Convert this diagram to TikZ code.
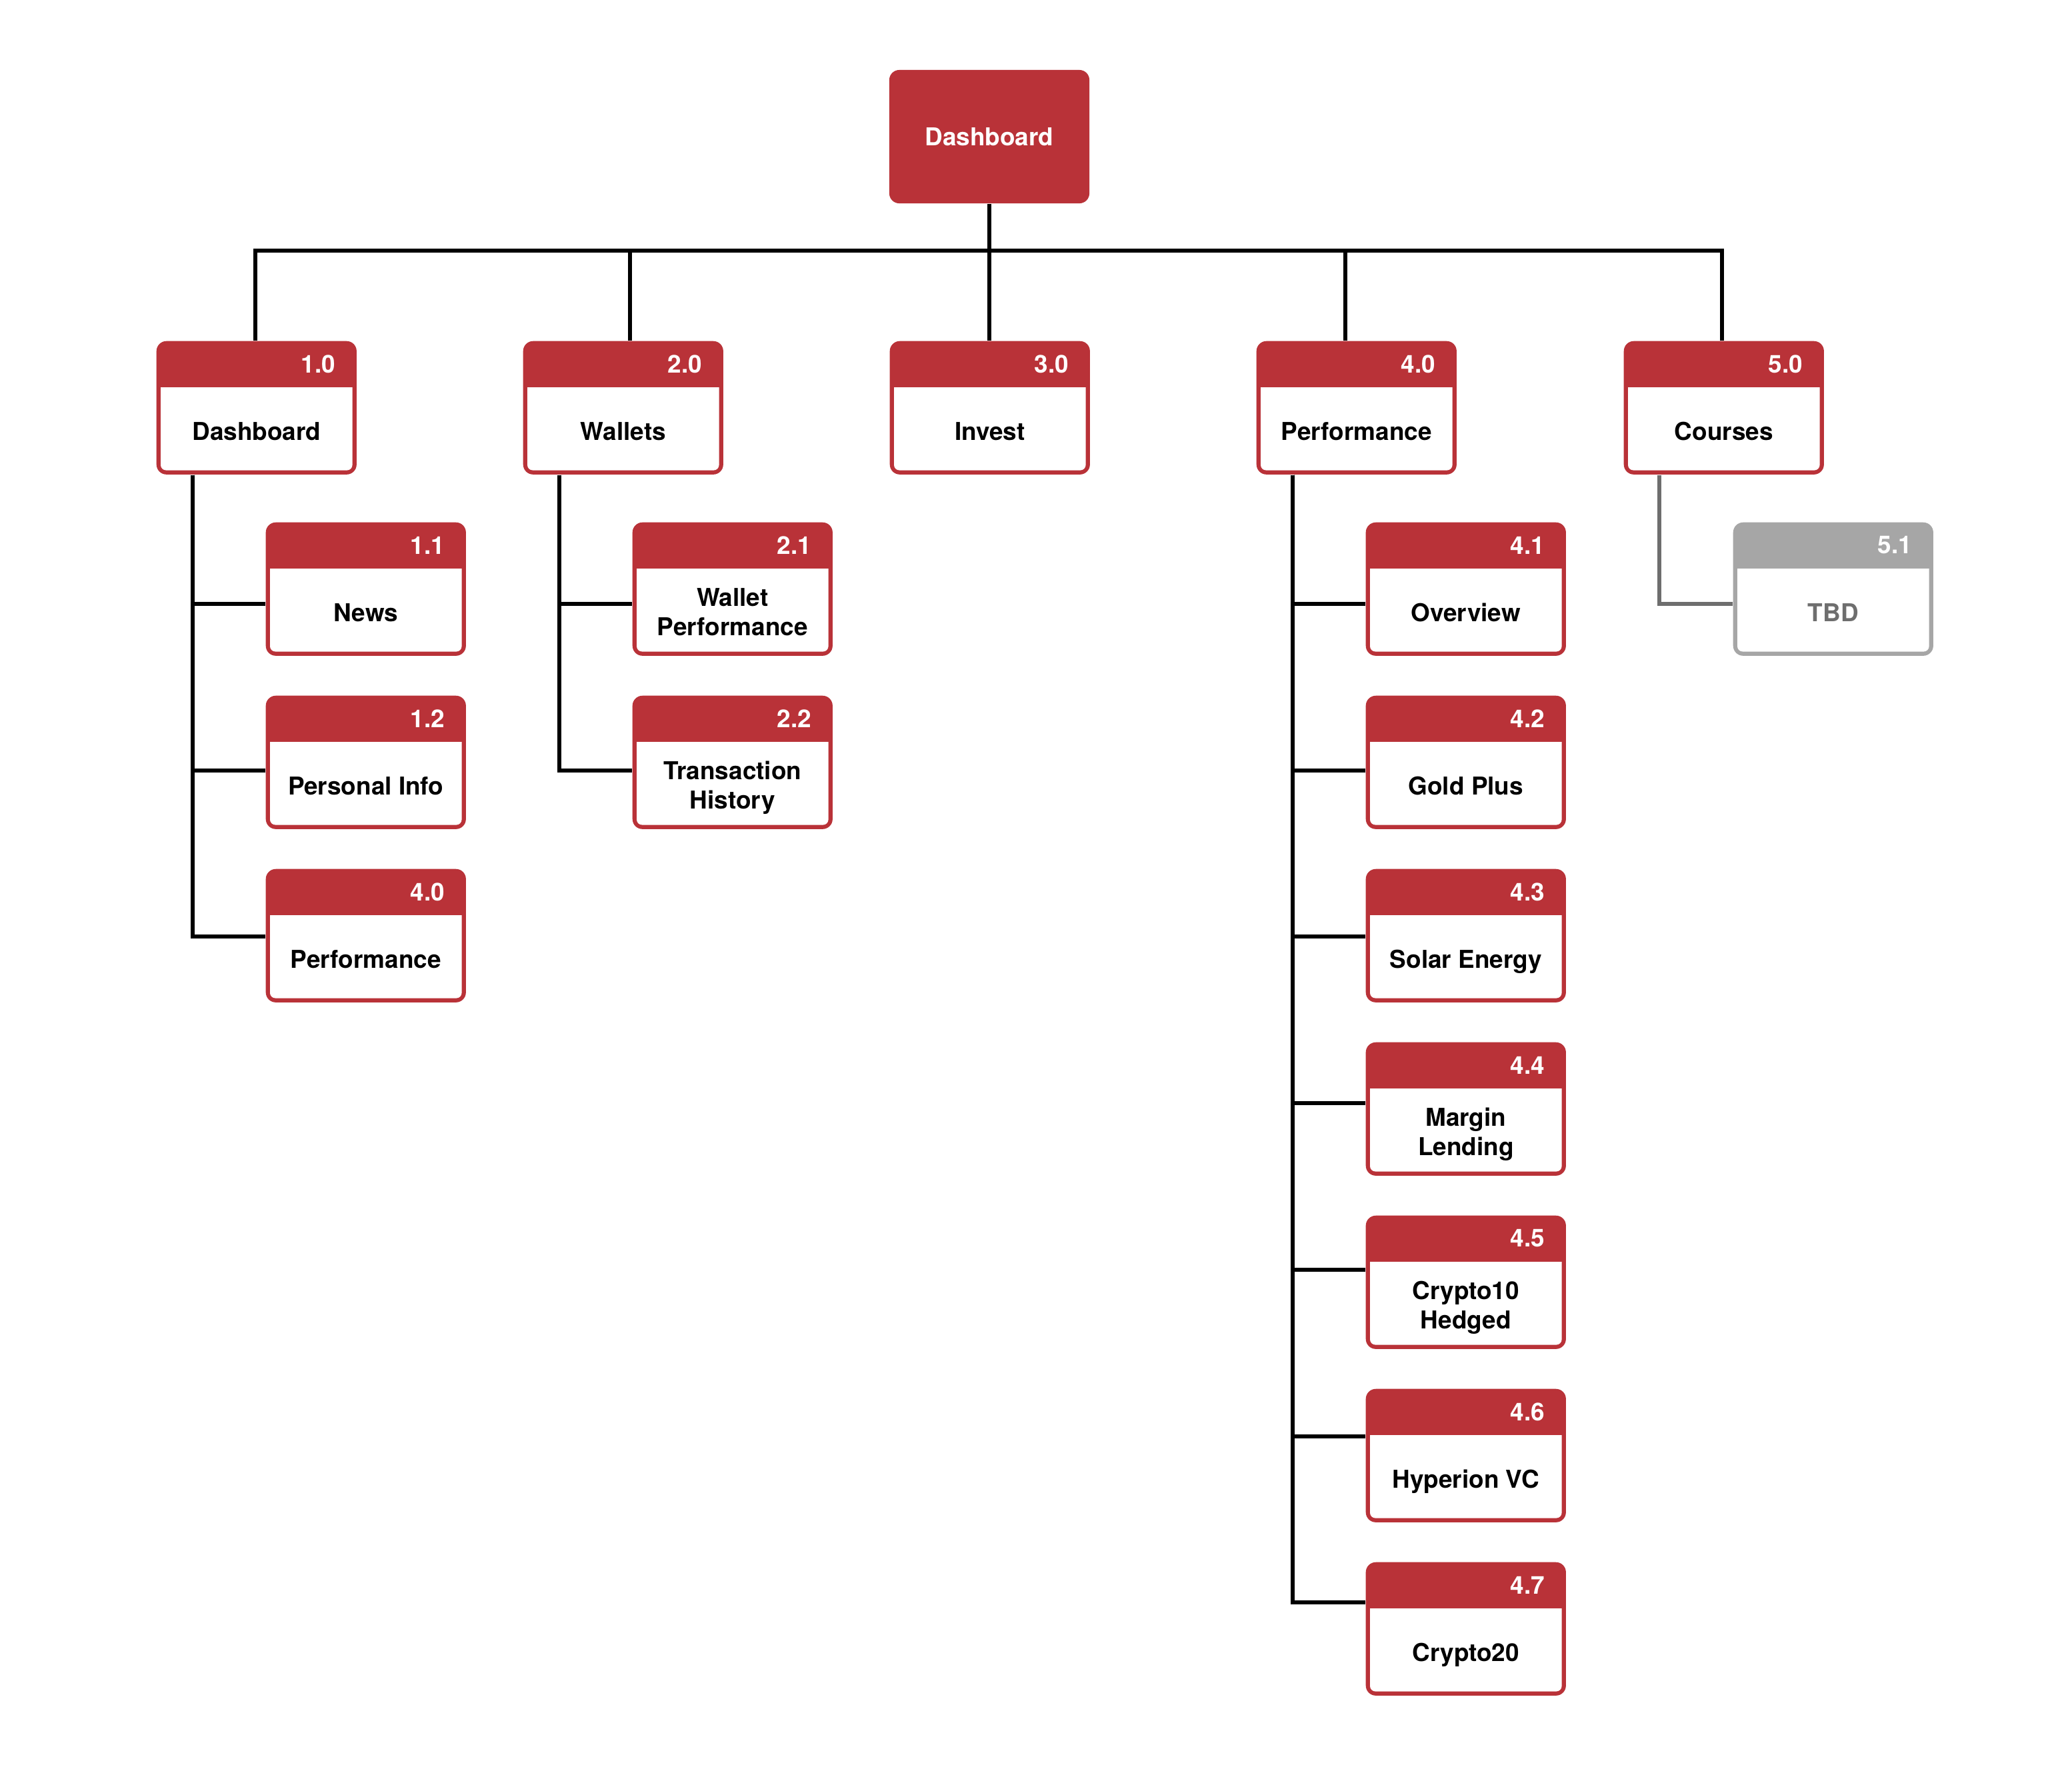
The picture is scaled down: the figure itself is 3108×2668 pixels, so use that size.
\documentclass[tikz,border=0pt]{standalone}
\usepackage{fontspec}
\setmainfont{TeX Gyre Heros}
\usetikzlibrary{calc}
\definecolor{brand}{HTML}{B93238}
\definecolor{greybox}{HTML}{A6A6A6}
\definecolor{greyline}{HTML}{6E6E6E}
% name, left, top, number, label, colour, baseline offset, label colour
\newcommand\mkbox[8]{%
  \node[boxshape, fill=#6] (#1) at (#2,#3) {};
  \fill[white] ([shift={(7,70)}]#1.north west) -- ([shift={(-7,70)}]#1.north east)
     [rounded corners=0.08cm] -- ([shift={(-7,-7)}]#1.south east) -- ([shift={(7,-7)}]#1.south west)
     [sharp corners] -- cycle;
  \node[numtext] (#1n) at ([shift={(-32,35)}]#1.north east) {#4};
  \node[labtext, text=#8] (#1l) at ([shift={(0,#7)}]#1.north) {#5};
}
\begin{document}
\begin{tikzpicture}[x=0.01cm,y=-0.01cm,
  boxshape/.style={rectangle, rounded corners=0.15cm, minimum width=3cm, minimum height=2cm, inner sep=0pt, anchor=north west},
  numtext/.style={font=\fontsize{10.5}{12.5}\selectfont\bfseries, text=white, inner sep=0pt, anchor=east},
  labtext/.style={font=\fontsize{10.5}{12.4}\selectfont\bfseries, inner sep=0pt, align=center, anchor=base},
  conn/.style={line width=0.06cm, black},
  gconn/.style={line width=0.06cm, greyline},
]
\useasboundingbox[fill=white] (0,0) rectangle (3108,2668);

% root
\node[rectangle, rounded corners=0.15cm, minimum width=3cm, minimum height=2cm, inner sep=0pt,
      fill=brand, text=white, font=\fontsize{10.5}{12.5}\selectfont\bfseries] (root) at (1484,205) {Dashboard};

% level 1
\mkbox{b1}{234}{511}{1.0}{Dashboard}{brand}{149}{black}
\mkbox{b2}{784}{511}{2.0}{Wallets}{brand}{149}{black}
\mkbox{b3}{1334}{511}{3.0}{Invest}{brand}{149}{black}
\mkbox{b4}{1884}{511}{4.0}{Performance}{brand}{149}{black}
\mkbox{b5}{2435}{511}{5.0}{Courses}{brand}{149}{black}

% level 2 : 1.x
\mkbox{b11}{398}{783}{1.1}{News}{brand}{149}{black}
\mkbox{b12}{398}{1043}{1.2}{Personal Info}{brand}{149}{black}
\mkbox{b13}{398}{1303}{4.0}{Performance}{brand}{149}{black}
% 2.x
\mkbox{b21}{948}{783}{2.1}{Wallet\\Performance}{brand}{170}{black}
\mkbox{b22}{948}{1043}{2.2}{Transaction\\History}{brand}{170}{black}
% 4.x
\mkbox{b41}{2048}{783}{4.1}{Overview}{brand}{149}{black}
\mkbox{b42}{2048}{1043}{4.2}{Gold Plus}{brand}{149}{black}
\mkbox{b43}{2048}{1303}{4.3}{Solar Energy}{brand}{149}{black}
\mkbox{b44}{2048}{1563}{4.4}{Margin\\Lending}{brand}{170}{black}
\mkbox{b45}{2048}{1823}{4.5}{Crypto10\\Hedged}{brand}{170}{black}
\mkbox{b46}{2048}{2083}{4.6}{Hyperion VC}{brand}{149}{black}
\mkbox{b47}{2048}{2343}{4.7}{Crypto20}{brand}{149}{black}
% 5.x
\mkbox{b51}{2599}{783}{5.1}{TBD}{greybox}{149}{greyline}

% bus
\coordinate (d1) at (383,376);
\coordinate (d2) at (945,376);
\coordinate (d3) at (1484,376);
\coordinate (d4) at (2018,376);
\coordinate (d5) at (2583,376);
\draw[conn] (d1 |- b1.north) -- (d1) -- (d5) -- (d5 |- b5.north);
\draw[conn] (root.south) -- (d3 |- b3.north);
\draw[conn] (d2) -- (d2 |- b2.north);
\draw[conn] (d4) -- (d4 |- b4.north);

% trunks
\draw[conn] ([xshift=0.55cm]b1.south west) |- ([yshift=-1.23cm]b11.north west);
\draw[conn] ([xshift=0.55cm]b1.south west) |- ([yshift=-1.13cm]b12.north west);
\draw[conn] ([xshift=0.55cm]b1.south west) |- ([yshift=-1.02cm]b13.north west);

\draw[conn] ([xshift=0.55cm]b2.south west) |- ([yshift=-1.23cm]b21.north west);
\draw[conn] ([xshift=0.55cm]b2.south west) |- ([yshift=-1.13cm]b22.north west);

\draw[conn] ([xshift=0.55cm]b4.south west) |- ([yshift=-1.23cm]b41.north west);
\draw[conn] ([xshift=0.55cm]b4.south west) |- ([yshift=-1.13cm]b42.north west);
\draw[conn] ([xshift=0.55cm]b4.south west) |- ([yshift=-1.02cm]b43.north west);
\draw[conn] ([xshift=0.55cm]b4.south west) |- ([yshift=-0.92cm]b44.north west);
\draw[conn] ([xshift=0.55cm]b4.south west) |- ([yshift=-0.82cm]b45.north west);
\draw[conn] ([xshift=0.55cm]b4.south west) |- ([yshift=-0.72cm]b46.north west);
\draw[conn] ([xshift=0.55cm]b4.south west) |- ([yshift=-0.61cm]b47.north west);

\draw[gconn] ([xshift=0.54cm]b5.south west) |- ([yshift=-1.23cm]b51.north west);
\end{tikzpicture}
\end{document}
